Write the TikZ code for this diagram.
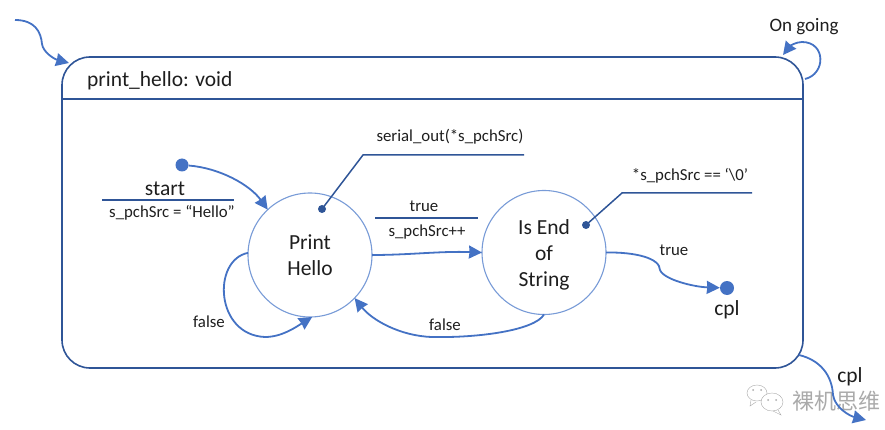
\documentclass[tikz,border=0pt]{standalone}
\usepackage{fontspec}
\setmainfont{Carlito}
\newfontfamily\cjkmark{Noto Sans CJK SC}
\usetikzlibrary{arrows.meta}
\definecolor{boxblue}{RGB}{47,85,151}
\definecolor{flowblue}{RGB}{68,114,196}
\definecolor{ringblue}{RGB}{120,155,215}
\definecolor{textdark}{RGB}{30,30,30}
\definecolor{markgray}{RGB}{170,170,170}
\tikzset{
  statebox/.style={draw=boxblue, line width=1.6pt, rounded corners=28pt, minimum width=741pt, minimum height=311pt, inner sep=0pt},
  staternd/.style={draw=ringblue, line width=1.1pt, fill=white, circle, minimum size=124pt, inner sep=0pt, outer sep=0pt, align=center, text=textdark, font=\fontsize{21.5}{26}\selectfont},
  flow/.style={flowblue, line width=1.8pt, -{Stealth[length=13pt, width=13pt, inset=0.5pt]}},
  guard/.style={boxblue, line width=1.5pt},
  enddot/.style={fill=flowblue, circle, inner sep=0pt, minimum size=#1},
  notedot/.style={fill=boxblue, circle, inner sep=0pt, minimum size=8pt},
  biglabel/.style={text=textdark, inner sep=0pt, font=\fontsize{21.5}{25}\selectfont},
  midlabel/.style={text=textdark, inner sep=0pt, font=\fontsize{19}{22}\selectfont},
  smalllabel/.style={text=textdark, inner sep=0pt, font=\fontsize{16.8}{20}\selectfont}
}
\begin{document}
\begin{tikzpicture}[x=1pt, y=-1pt]
\useasboundingbox (0,0) rectangle (885,430);
% Watermark
\draw[markgray, fill=white] (757,393) ellipse (10 and 8);
\draw[markgray, fill=white] (772,402) ellipse (11 and 9);
\draw[markgray] (751,400) -- (750,406) -- (756,402);
\draw[markgray] (778,410) -- (781,415) -- (773,411);
\fill[markgray] (753,390) circle (1) (761,390) circle (1) (768,400) circle (1) (776,400) circle (1);
\node[text=markgray, inner sep=0pt, font=\cjkmark\fontsize{22}{24}\selectfont] (mark) at (836,401) {裸机思维};
% Outer state
\node[statebox] (hello) at (432.5,212.5) {};
\coordinate (titlebar) at (432,99);
\draw[guard] (hello.west |- titlebar) -- (hello.east |- titlebar);
\node[biglabel, anchor=west] (title) at (87,81) {print\_hello: void};
% Inner states
\node[staternd] (print) at (310,255) {Print\\Hello};
\node[staternd] (isend) at (544,252.5) {\rule{0pt}{20pt}Is End\\of\\String};
% End points
\node[enddot=13pt] (startdot) at (182,165) {};
\node[enddot=14pt] (cpldot) at (727,288) {};
% Labels
\node[biglabel] (startlabel) at (165,189) {start};
\node[smalllabel] (startinit) at (172,212.5) {s\_pchSrc = “Hello”};
\node[smalllabel] (seriallabel) at (450,136.5) {serial\_out(*s\_pchSrc)};
\node[smalllabel] (truea) at (424,206.5) {true};
\node[smalllabel] (incr) at (427,232.5) {s\_pchSrc++};
\node[smalllabel] (eoslabel) at (690,175.5) {*s\_pchSrc == ‘\textbackslash 0’};
\node[smalllabel] (trueb) at (674,250.5) {true};
\node[smalllabel] (falsea) at (209,321.5) {false};
\node[smalllabel] (falseb) at (445,325) {false};
\node[biglabel] (cpllabel) at (727,309.5) {cpl};
\node[biglabel] (outlabel) at (850,376.5) {cpl};
\node[midlabel] (going) at (804,27) {On going};
% Guard lines
\coordinate (startl) at (102,200);
\coordinate (startr) at (234,200);
\coordinate (truel) at (375,218);
\coordinate (truer) at (478,218);
\draw[guard] (startl) -- (startr);
\draw[guard] (truel) -- (truer);
% Notes
\node[notedot] (printnote) at (322,209) {};
\node[notedot] (isendnote) at (586,225) {};
\coordinate (serialbend) at (363,155);
\coordinate (serialend) at (524,155);
\coordinate (eosbend) at (622,193);
\coordinate (eosend) at (752,193);
\draw[guard] (printnote.center) -- (serialbend) -- (serialend);
\draw[guard] (isendnote.center) -- (eosbend) -- (eosend);
% Transitions
\coordinate (entry) at (15,20);
\coordinate (entryend) at (69,63);
\draw[flow] (entry) .. controls (35,20) and (41,32) .. (42,44) .. controls (43,52) and (54,59) .. (entryend);
\draw[flow] (startdot) .. controls (220,168) and (250,185) .. (print.133);
\draw[flow] (print.0) .. controls (410,255) and (440,251) .. (isend.180);
\draw[flow] (print.178) .. controls (212,260) and (215,335) .. (265,337) .. controls (282,337) and (296,327) .. (print.-88);
\draw[flow] (isend.-90) .. controls (535,330) and (480,338) .. (432,337) .. controls (400,336) and (372,320) .. (print.-44);
\draw[flow] (isend.0) .. controls (635,252) and (660,258) .. (660,270) .. controls (664,280) and (695,287) .. (cpldot);
% Self loop and exit
\coordinate (goingout) at (805,79);
\coordinate (goingin) at (783,55);
\coordinate (exitout) at (799,355);
\coordinate (exitend) at (866,420);
\draw[flow] (goingout) .. controls (826,74) and (826,42) .. (802,42) .. controls (796,42) and (790,46) .. (goingin);
\draw[flow] (exitout) .. controls (820,360) and (832,375) .. (833,395) .. controls (835,408) and (850,416) .. (exitend);
\end{tikzpicture}
\end{document}
